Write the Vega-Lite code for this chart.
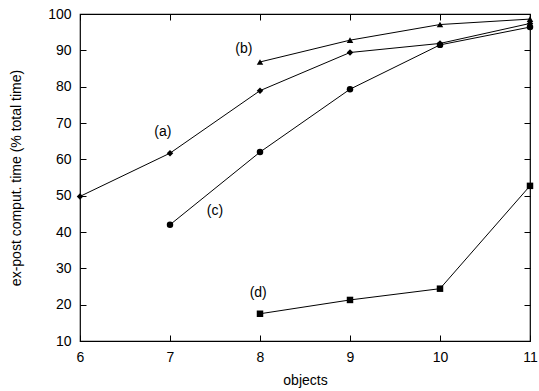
{
  "$schema": "https://vega.github.io/schema/vega-lite/v6.json",
  "width": 450,
  "height": 327,
  "autosize": "none",
  "padding": {"left": 80, "top": 14, "right": 9, "bottom": 50},
  "background": "white",
  "config": {
    "font": "Liberation Sans",
    "view": {"stroke": "black", "strokeWidth": 1.2},
    "axis": {
      "grid": false,
      "domain": false,
      "ticks": true,
      "tickSize": 6,
      "offset": -6,
      "tickColor": "black",
      "tickWidth": 1,
      "labelColor": "black",
      "labelFontSize": 14,
      "labelOverlap": false,
      "labelFlush": false,
      "titleFontSize": 14,
      "titleFontWeight": "normal",
      "titleColor": "black",
      "labelFont": "Liberation Sans",
      "titleFont": "Liberation Sans"
    }
  },
  "datasets": {
    "series": [
      {"objects": 6, "time": 49.8, "curve": "a"},
      {"objects": 7, "time": 61.7, "curve": "a"},
      {"objects": 8, "time": 78.9, "curve": "a"},
      {"objects": 9, "time": 89.4, "curve": "a"},
      {"objects": 10, "time": 91.9, "curve": "a"},
      {"objects": 11, "time": 97.4, "curve": "a"},
      {"objects": 8, "time": 86.8, "curve": "b"},
      {"objects": 9, "time": 92.8, "curve": "b"},
      {"objects": 10, "time": 97.1, "curve": "b"},
      {"objects": 11, "time": 98.6, "curve": "b"},
      {"objects": 7, "time": 42.0, "curve": "c"},
      {"objects": 8, "time": 62.0, "curve": "c"},
      {"objects": 9, "time": 79.3, "curve": "c"},
      {"objects": 10, "time": 91.5, "curve": "c"},
      {"objects": 11, "time": 96.4, "curve": "c"},
      {"objects": 8, "time": 17.5, "curve": "d"},
      {"objects": 9, "time": 21.3, "curve": "d"},
      {"objects": 10, "time": 24.4, "curve": "d"},
      {"objects": 11, "time": 52.7, "curve": "d"}
    ],
    "labels": [
      {"objects": 6.92, "time": 67.6, "label": "(a)"},
      {"objects": 7.82, "time": 90.3, "label": "(b)"},
      {"objects": 7.5, "time": 45.8, "label": "(c)"},
      {"objects": 7.98, "time": 23.1, "label": "(d)"}
    ]
  },
  "resolve": {"axis": {"x": "independent", "y": "independent"}},
  "layer": [
    {
      "data": {"name": "series"},
      "mark": {"type": "line", "color": "black", "strokeWidth": 1},
      "encoding": {
        "x": {"field": "objects", "type": "quantitative", "scale": {"domain": [6, 11], "nice": false},
              "axis": {"orient": "bottom", "title": "objects", "format": "d", "values": [6, 7, 8, 9, 10, 11], "labelPadding": 9, "titlePadding": 9}},
        "y": {"field": "time", "type": "quantitative", "scale": {"domain": [10, 100], "nice": false},
              "axis": {"orient": "left", "title": "ex-post comput. time (% total time)", "format": "d", "values": [10, 20, 30, 40, 50, 60, 70, 80, 90, 100], "labelPadding": 9, "titlePadding": 24}},
        "detail": {"field": "curve", "type": "nominal"}
      }
    },
    {
      "data": {"name": "series"},
      "mark": {"type": "point", "filled": true, "color": "black", "opacity": 1},
      "encoding": {
        "x": {"field": "objects", "type": "quantitative",
              "axis": {"orient": "top", "title": null, "labels": false, "values": [6, 7, 8, 9, 10, 11]}},
        "y": {"field": "time", "type": "quantitative",
              "axis": {"orient": "right", "title": null, "labels": false, "values": [10, 20, 30, 40, 50, 60, 70, 80, 90, 100]}},
        "shape": {"field": "curve", "type": "nominal", "legend": null,
                  "scale": {"domain": ["a", "b", "c", "d"], "range": ["diamond", "triangle-up", "circle", "square"]}},
        "size": {"field": "curve", "type": "nominal", "legend": null,
                 "scale": {"domain": ["a", "b", "c", "d"], "range": [42, 42, 64, 66]}}
      }
    },
    {
      "data": {"name": "labels"},
      "mark": {"type": "text", "fontSize": 14, "color": "black", "font": "Liberation Sans"},
      "encoding": {
        "x": {"field": "objects", "type": "quantitative", "axis": null},
        "y": {"field": "time", "type": "quantitative", "axis": null},
        "text": {"field": "label"}
      }
    }
  ]
}
